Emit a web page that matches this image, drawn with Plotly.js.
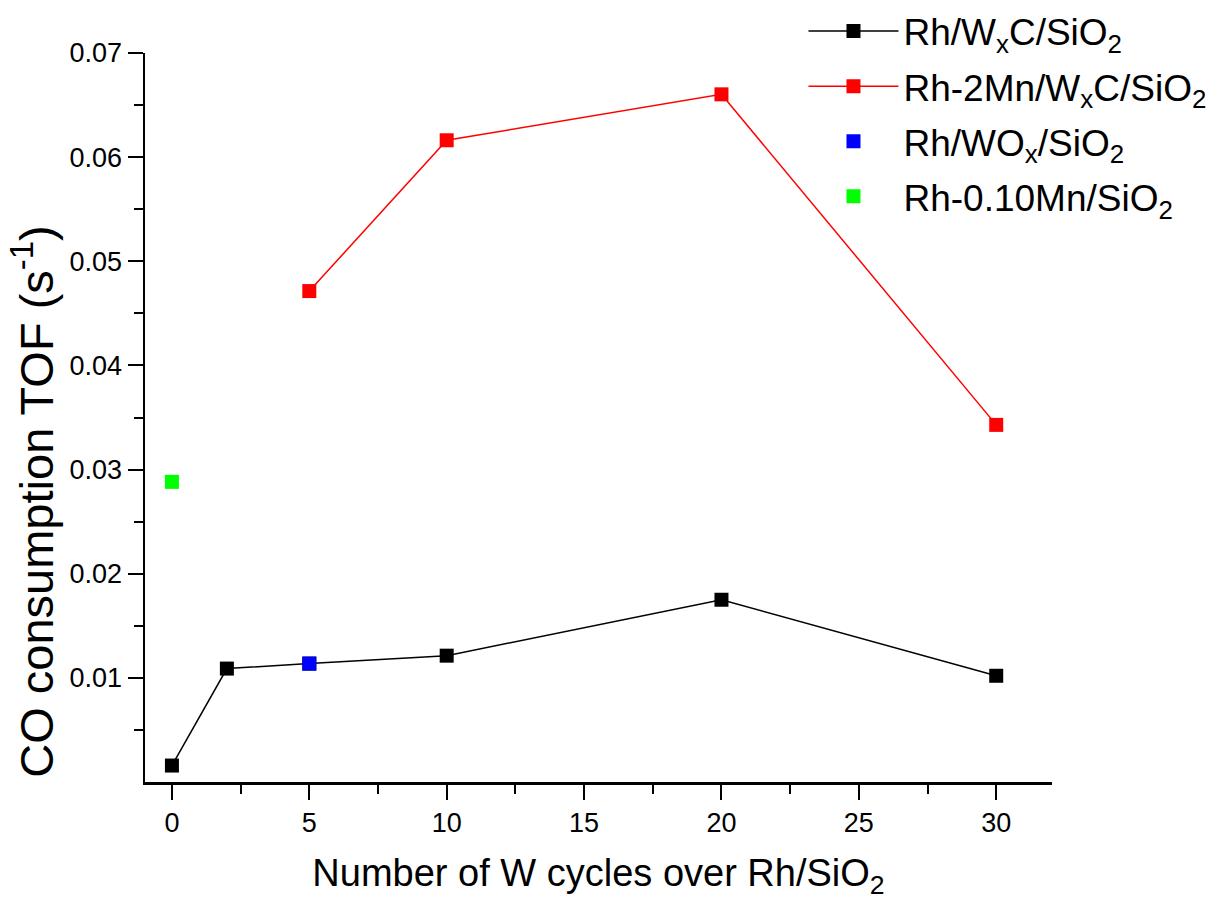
<!DOCTYPE html>
<html>
<head>
<meta charset="utf-8">
<script src="https://cdn.plot.ly/plotly-3.0.1.min.js"></script>
<style>html,body{margin:0;padding:0;background:#fff;}#chart{width:1217px;height:900px;}</style>
</head>
<body>
<div id="chart"></div>
<script>
// Data
const seriesNames = [
  "Rh/W<sub>x</sub>C/SiO<sub>2</sub>",
  "Rh-2Mn/W<sub>x</sub>C/SiO<sub>2</sub>",
  "Rh/WO<sub>x</sub>/SiO<sub>2</sub>",
  "Rh-0.10Mn/SiO<sub>2</sub>"
];
const rhWxC_x = [0, 2, 5, 10, 20, 30];
const rhWxC_y = [0.00158, 0.01089, 0.01137, 0.01213, 0.0175, 0.0102];
const rh2Mn_x = [5, 10, 20, 30];
const rh2Mn_y = [0.04714, 0.06162, 0.06603, 0.03429];
const rhWOx_x = [5];
const rhWOx_y = [0.01137];
const rh010Mn_x = [0];
const rh010Mn_y = [0.02882];
const xTickVals = [0, 5, 10, 15, 20, 25, 30];
const yTickVals = [0.01, 0.02, 0.03, 0.04, 0.05, 0.06, 0.07];
const yTickText = ["0.01", "0.02", "0.03", "0.04", "0.05", "0.06", "0.07"];

const FONT = "Liberation Sans, Arial, sans-serif";
const mk = (c) => ({symbol: "square", size: 14, color: c, line: {color: c, width: 0}});

const traces = [
  {x: rhWxC_x, y: rhWxC_y, name: seriesNames[0], legendgroup: "a", mode: "lines+markers",
   line: {color: "#000000", width: 1.5}, marker: mk("#000000")},
  {x: rh2Mn_x, y: rh2Mn_y, name: seriesNames[1], legendgroup: "b", mode: "lines+markers",
   line: {color: "#ff0000", width: 1.5}, marker: mk("#ff0000")},
  {x: rhWOx_x, y: rhWOx_y, name: seriesNames[2], legendgroup: "c", mode: "markers", marker: mk("#0000ff")},
  {x: rh010Mn_x, y: rh010Mn_y, name: seriesNames[3], legendgroup: "d", mode: "markers", marker: mk("#00ff00")}
];

const layout = {
  width: 1217, height: 900,
  paper_bgcolor: "#ffffff", plot_bgcolor: "#ffffff",
  margin: {l: 145, r: 165, t: 53, b: 118, autoexpand: false},
  font: {family: FONT, color: "#000000"},
  showlegend: true,
  legend: {
    x: 0.726, y: 1.072, xanchor: "left", yanchor: "top",
    bgcolor: "rgba(0,0,0,0)", itemwidth: 90,
    font: {family: FONT, size: 37},
    traceorder: "grouped", tracegroupgap: 4, itemclick: false
  },
  xaxis: {
    range: [-0.98, 32.03],
    tickmode: "array", tickvals: xTickVals,
    ticks: "outside", ticklen: 15, tickwidth: 2, tickcolor: "#000",
    showline: true, linecolor: "#000", linewidth: 2.5, mirror: false,
    showgrid: false, zeroline: false,
    tickfont: {family: FONT, size: 27},
    minor: {tickmode: "linear", tick0: 2.5, dtick: 5, ticks: "outside", ticklen: 9, tickwidth: 2, tickcolor: "#000", showgrid: false},
    title: {text: "Number of W cycles over Rh/SiO<sub>2</sub>", font: {family: FONT, size: 38}, standoff: 24}
  },
  yaxis: {
    range: [0, 0.07],
    tickmode: "array", tickvals: yTickVals, ticktext: yTickText,
    ticks: "outside", ticklen: 15, tickwidth: 2, tickcolor: "#000",
    showline: true, linecolor: "#000", linewidth: 2.5, mirror: false,
    showgrid: false, zeroline: false,
    tickfont: {family: FONT, size: 27},
    minor: {tickmode: "linear", tick0: 0.005, dtick: 0.01, ticks: "outside", ticklen: 9, tickwidth: 2, tickcolor: "#000", showgrid: false}
  },
  annotations: [{
    text: "CO consumption TOF (s<sup>-1</sup>)",
    xref: "paper", yref: "paper",
    x: -0.123, y: 0.385, xanchor: "center", yanchor: "middle",
    textangle: -90, showarrow: false,
    font: {family: FONT, size: 47, color: "#000"}
  }]
};

Plotly.newPlot("chart", traces, layout, {staticPlot: true, displayModeBar: false});
</script>
</body>
</html>
